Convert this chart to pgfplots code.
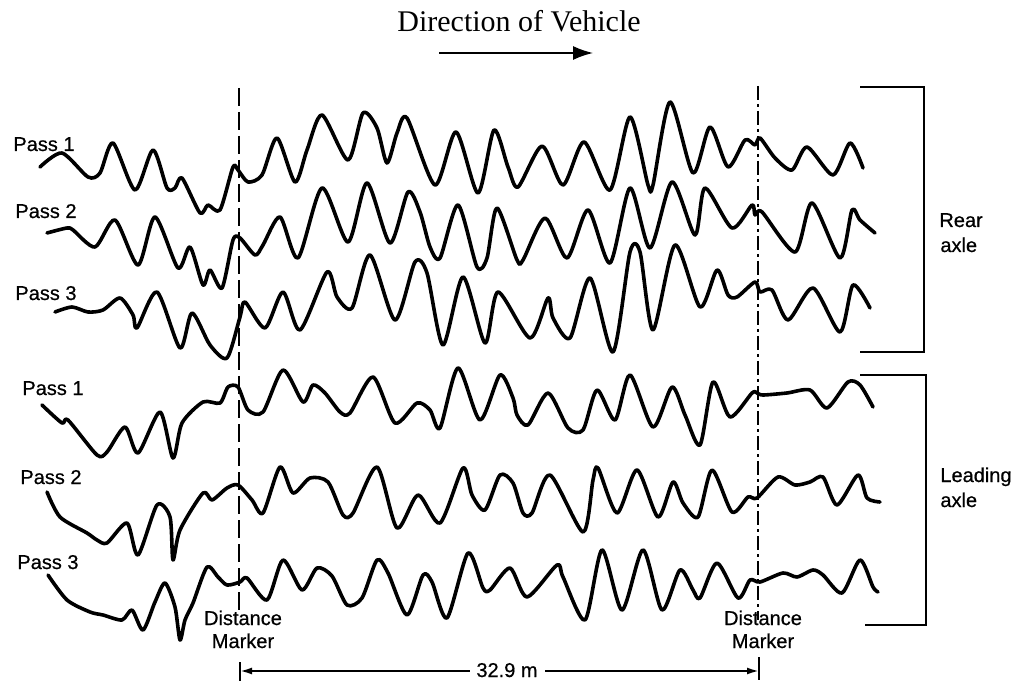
\documentclass[border=0pt]{standalone}
\usepackage{fontspec}
\setmainfont{Liberation Serif}
\setsansfont{Liberation Sans}
\newfontfamily\lblfont[FakeBold=0.6]{Liberation Sans}
\usepackage{pgfplots}
\pgfplotsset{compat=1.18}
\usetikzlibrary{arrows.meta}
\tikzset{
  trace/.style={black, line width=1.8pt, smooth, tension=0.45, line join=round, line cap=round},
  lbl/.style={font=\lblfont\fontsize{10}{12}\selectfont, inner sep=0pt},
}
\begin{document}
\begin{tikzpicture}
\begin{axis}[
  scale only axis, width=507.5pt, height=341.5pt,
  xmin=0, xmax=1015, ymin=0, ymax=683, y dir=reverse,
  axis lines=none, clip=false,
]
\path (axis cs:0,0) rectangle (axis cs:1015,683);
% Rear axle, pass 1
\addplot[trace] coordinates {(40,167)(62,153)(88,177)(100,173)(113,143)(135,190)(153,150)(167,188)(175,188)(182,178)(200,213)(208,205)(220,210)(233,167)(238,170)(248,182)(262,175)(277,138)(295,182)(307,150)(322,115)(348,160)(363,113)(377,128)(387,163)(397,133)(407,118)(435,185)(456,132)(478,193)(494,130)(508,167)(518,187)(542,146)(563,185)(584,142)(610,190)(630,117)(648,185)(653,185)(670,102)(693,173)(710,127)(728,167)(745,140)(755,145)(760,138)(775,158)(792,170)(807,147)(833,175)(850,143)(863,168)};
% Rear axle, pass 2
\addplot[trace] coordinates {(47,233)(67,228)(73,230)(95,247)(115,220)(138,265)(155,217)(178,268)(190,247)(203,285)(210,270)(222,288)(233,240)(240,238)(255,255)(263,245)(280,217)(298,258)(322,188)(348,242)(367,183)(390,243)(408,192)(420,212)(430,247)(440,258)(458,205)(477,267)(487,258)(497,208)(517,260)(523,260)(545,218)(567,258)(588,210)(610,263)(630,188)(650,248)(672,182)(695,235)(705,188)(732,228)(752,205)(755,215)(762,212)(795,252)(812,203)(840,258)(852,210)(860,220)(875,233)};
% Rear axle, pass 3
\addplot[trace] coordinates {(55,312)(72,307)(88,312)(103,310)(120,298)(133,315)(137,328)(157,292)(180,348)(192,313)(210,345)(227,358)(240,317)(245,302)(265,328)(283,292)(300,330)(327,272)(337,297)(352,308)(370,255)(395,320)(415,262)(427,273)(443,345)(463,277)(485,343)(498,292)(530,338)(548,298)(553,318)(570,338)(590,278)(613,352)(630,252)(640,252)(653,330)(675,245)(700,307)(717,270)(728,295)(737,297)(755,282)(760,292)(772,290)(788,320)(813,288)(840,332)(853,285)(870,308)};
% Leading axle, pass 1
\addplot[trace] coordinates {(42,405)(62,423)(68,420)(97,455)(107,452)(125,427)(138,453)(160,412)(173,458)(182,423)(203,402)(220,403)(228,387)(238,387)(248,410)(263,412)(283,370)(303,402)(313,385)(325,393)(340,412)(350,413)(373,377)(395,423)(417,403)(430,410)(440,428)(458,368)(480,420)(500,375)(513,398)(517,415)(528,425)(548,393)(568,428)(583,430)(597,390)(615,420)(630,375)(653,427)(672,387)(685,415)(700,445)(713,382)(730,417)(752,393)(757,393)(763,395)(787,393)(810,390)(827,408)(848,382)(860,385)(873,407)};
% Leading axle, pass 2
\addplot[trace] coordinates {(47,492)(60,517)(87,533)(97,540)(107,543)(127,523)(138,555)(157,505)(170,517)(173,560)(180,530)(203,493)(212,500)(227,488)(238,485)(252,500)(263,513)(280,467)(293,493)(310,478)(328,482)(343,515)(353,513)(377,467)(397,528)(418,495)(440,523)(463,468)(472,495)(485,510)(500,475)(513,483)(523,513)(532,513)(550,475)(583,532)(593,480)(598,468)(617,513)(637,470)(658,517)(673,482)(683,503)(698,517)(712,470)(732,512)(748,497)(757,498)(778,477)(795,485)(810,482)(823,477)(837,505)(858,475)(867,498)(880,502)};
% Leading axle, pass 3
\addplot[trace] coordinates {(48,575)(67,600)(90,612)(103,615)(122,620)(132,610)(143,630)(155,602)(165,583)(175,607)(180,640)(185,620)(193,603)(207,567)(218,577)(227,585)(240,582)(247,578)(267,600)(283,560)(302,590)(317,568)(332,576)(347,605)(362,598)(377,560)(388,573)(407,615)(423,575)(432,582)(447,618)(468,553)(483,588)(490,590)(510,568)(527,597)(557,565)(563,577)(585,620)(602,550)(622,610)(643,550)(662,610)(680,570)(693,590)(700,598)(717,563)(738,598)(750,580)(760,582)(783,573)(797,577)(813,570)(823,575)(842,593)(860,560)(873,587)(878,592)};
% distance markers
\addplot[black, line width=1.3pt, dash pattern=on 9pt off 3pt] coordinates {(239,88)(239,614)};
\addplot[black, line width=1.3pt, dash pattern=on 7pt off 2pt on 1.5pt off 2pt] coordinates {(758,86)(758,620)};
% brackets
\addplot[black, line width=1.3pt] coordinates {(860,87)(924,87)(924,352)(860,352)};
\addplot[black, line width=1.3pt] coordinates {(860,375)(926,375)(926,625)(865,625)};
% direction arrow
\addplot[black, line width=0.8pt, -{Latex[length=10pt,width=7pt]}] coordinates {(439,53)(593,53)};
% dimension line
\addplot[black, line width=1pt, {Latex[length=6pt,width=3.5pt]}-] coordinates {(240,671)(470,671)};
\addplot[black, line width=1pt, -{Latex[length=6pt,width=3.5pt]}] coordinates {(545,671)(759,671)};
\addplot[black, line width=1pt] coordinates {(240,662)(240,681)};
\addplot[black, line width=1pt] coordinates {(759,657)(759,680)};
% texts
\node[anchor=base, inner sep=0pt, font=\rmfamily\fontsize{15}{18}\selectfont] at (axis cs:519,32) {Direction of Vehicle};
\node[lbl, anchor=base west] at (axis cs:13,151) {Pass 1};
\node[lbl, anchor=base west] at (axis cs:15,218) {Pass 2};
\node[lbl, anchor=base west] at (axis cs:15,300) {Pass 3};
\node[lbl, anchor=base west] at (axis cs:22,395) {Pass 1};
\node[lbl, anchor=base west] at (axis cs:20,484) {Pass 2};
\node[lbl, anchor=base west] at (axis cs:17,569) {Pass 3};
\node[lbl, anchor=base west] at (axis cs:939,227) {Rear};
\node[lbl, anchor=base west] at (axis cs:940,252) {axle};
\node[lbl, anchor=base west] at (axis cs:940,482) {Leading};
\node[lbl, anchor=base west] at (axis cs:940,507) {axle};
\node[lbl, anchor=base] at (axis cs:243,625) {Distance};
\node[lbl, anchor=base] at (axis cs:243,648) {Marker};
\node[lbl, anchor=base] at (axis cs:763,625) {Distance};
\node[lbl, anchor=base] at (axis cs:763,648) {Marker};
\node[lbl, anchor=base] at (axis cs:507,677) {32.9 m};
\end{axis}
\end{tikzpicture}
\end{document}
